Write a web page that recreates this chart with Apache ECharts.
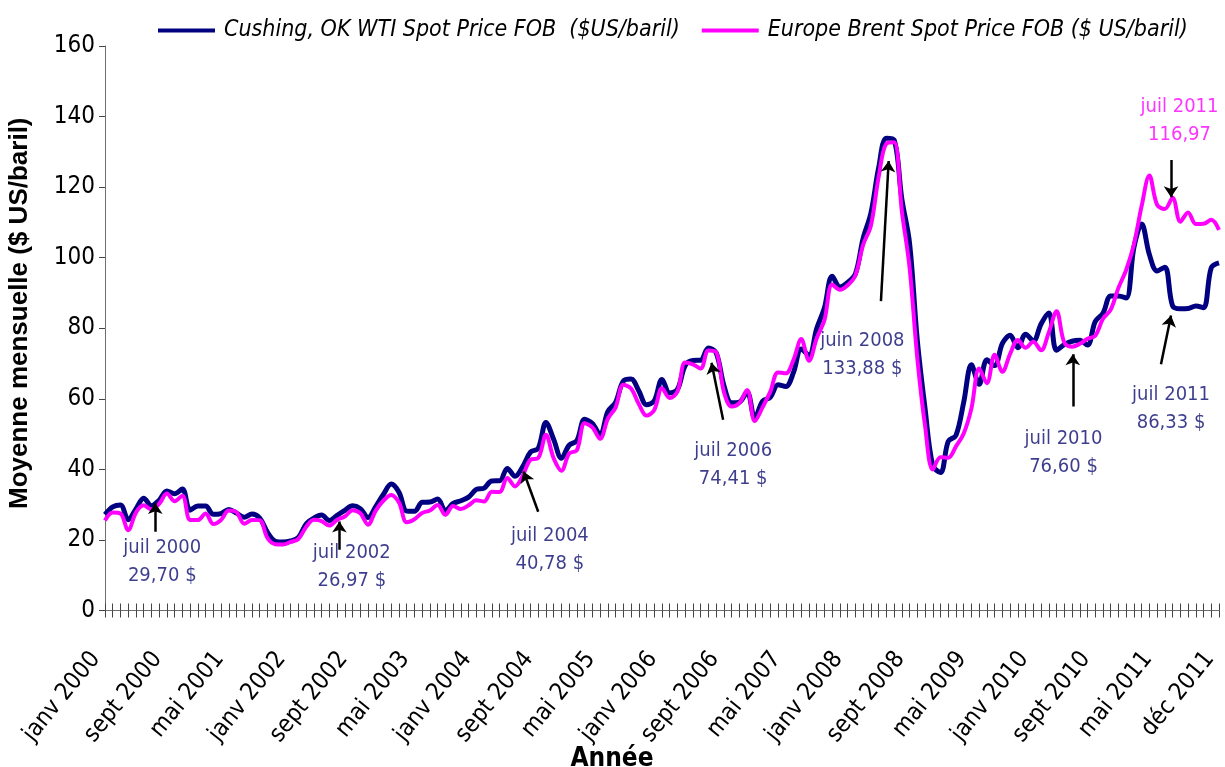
<!DOCTYPE html>
<html>
<head>
<meta charset="utf-8">
<script src="https://cdn.jsdelivr.net/npm/echarts@6/dist/echarts.min.js"></script>
<style>html,body{margin:0;padding:0;background:#fff}#c{width:1225px;height:767px}</style>
</head>
<body>
<div id="c"></div>
<script>
// ---- DATA ----
const monthNames = ['janv','févr','mars','avr','mai','juin','juil','août','sept','oct','nov','déc'];
const categories = [];
for (let y = 2000; y <= 2011; y++) for (let m = 0; m < 12; m++) {
  categories.push(monthNames[m] + ' ' + y);
  if (y === 2011 && m === 9) categories.push(monthNames[m] + ' ' + y); // repeated row in the source sheet
}
const wtiName = 'Cushing, OK WTI Spot Price FOB  ($US/baril)';
const brentName = 'Europe Brent Spot Price FOB ($ US/baril)';
const wti = [
  27.18,29.35,29.89,25.74,28.78,31.83,29.70,31.26,33.88,33.11,34.42,28.44,
  29.59,29.61,27.25,27.49,28.63,27.60,26.43,27.37,26.20,22.17,19.64,19.39,
  19.72,20.72,24.53,26.18,27.04,25.52,26.97,28.39,29.66,28.84,26.35,29.46,
  32.95,35.83,33.51,28.17,28.11,30.66,30.75,31.57,28.31,30.34,31.11,32.13,
  34.31,34.69,36.74,36.75,40.28,38.03,40.78,44.90,45.94,53.28,48.47,43.15,
  46.84,48.15,54.19,52.98,49.83,56.35,59.00,64.99,65.59,62.26,58.32,59.41,
  65.49,61.63,62.69,69.44,70.84,70.95,74.41,73.04,63.80,58.89,59.08,61.96,
  54.51,59.28,60.44,63.98,63.46,67.49,74.12,72.36,79.92,85.80,94.77,91.69,
  92.97,95.39,105.45,112.58,125.40,133.88,133.37,116.67,104.11,76.61,57.31,41.12,
  39.09,47.94,49.65,59.03,69.64,64.15,71.05,69.41,75.72,77.99,74.47,
  78.33,76.39,81.20,84.29,73.74,75.34,76.32,76.60,75.24,81.89,84.25,89.15,
  89.17,88.58,102.86,109.53,100.90,96.26,97.30,
  86.33,85.52,85.60,86.32,85.80,
  97.16,98.56
];
const brent = [
  25.51,27.78,27.49,22.76,27.74,29.80,28.68,30.20,33.14,30.96,32.55,25.66,
  25.62,27.50,24.50,25.66,28.31,27.85,24.61,25.68,25.62,20.54,18.80,18.71,
  19.42,20.28,23.70,25.73,25.35,24.08,25.74,26.65,28.40,27.54,24.34,28.33,
  31.18,32.77,30.61,25.00,25.86,27.65,28.35,29.89,27.11,29.61,28.75,29.81,
  31.28,30.86,33.63,33.59,37.57,35.18,38.22,42.74,43.20,49.78,43.11,39.60,
  44.51,45.48,53.10,51.88,48.65,54.35,57.52,63.98,62.91,58.54,55.24,56.86,
  62.99,60.21,62.06,70.26,69.78,68.56,73.67,73.23,61.96,57.81,58.76,62.47,
  53.68,57.56,62.05,67.49,67.21,71.05,76.93,70.76,77.17,82.34,92.41,90.93,
  92.18,94.99,103.64,109.07,122.80,132.32,132.72,113.24,97.23,71.58,52.45,39.95,
  43.44,43.32,46.54,50.18,57.30,68.61,64.44,72.51,67.65,72.77,76.66,74.46,
  76.17,73.75,78.83,84.82,75.95,74.76,75.58,77.04,77.84,82.67,85.28,91.45,
  96.52,103.72,114.64,123.26,114.99,113.83,116.97,110.22,112.83,109.55,
  109.60,110.77,107.87
];
const yTicks = {min: 0, max: 160, interval: 20};
// annotations: text, series, text anchor (category index, value), arrow from, arrow to
const notes = [
  {text: 'juil 2000\n29,70 $',  s: 'wti',   at: [7.4, 13.8],   from: [6.5, 22.3],  to: [6.5, 30.5]},
  {text: 'juil 2002\n26,97 $',  s: 'wti',   at: [31.9, 12.4],  from: [30.3, 17.2], to: [30.3, 25.2]},
  {text: 'juil 2004\n40,78 $',  s: 'wti',   at: [57.5, 17.2],  from: [56.0, 28.0], to: [54.1, 39.4]},
  {text: 'juil 2006\n74,41 $',  s: 'wti',   at: [81.2, 41.3],  from: [79.9, 54.1], to: [78.4, 70.2]},
  {text: 'juin 2008\n133,88 $', s: 'wti',   at: [97.9, 72.5],  from: [100.3, 87.7], to: [101.3, 127.4]},
  {text: 'juil 2010\n76,60 $',  s: 'wti',   at: [123.9, 44.6], from: [125.1, 57.8], to: [125.1, 72.6]},
  {text: 'juil 2011\n86,33 $',  s: 'wti',   at: [137.8, 57.3], from: [136.5, 69.8], to: [137.8, 83.6]},
  {text: 'juil 2011\n116,97',   s: 'brent', at: [138.9, 138.7], from: [137.8, 127.7], to: [137.8, 117.1]}
];

// ---- STYLE ----
const NARROW = "'Liberation Sans Narrow', 'DejaVu Sans Condensed', 'Arial Narrow', sans-serif";
const WIDE = "'Liberation Sans', Arial, sans-serif";
const WTI_COLOR = '#000080', BRENT_COLOR = '#ff00ff', WTI_TEXT = '#0c0c72';
const AXIS = '#6e6e6e';

const chart = echarts.init(document.getElementById('c'), null, {renderer: 'canvas'});
chart.setOption({
  animation: false,
  backgroundColor: '#fff',
  grid: {left: 105, right: 6, top: 46, bottom: 156.5, outerBoundsMode: 'none', containLabel: false},
  legend: {
    data: [wtiName, brentName], left: 153, top: 14, width: 1070, icon: 'rect',
    itemWidth: 57, itemHeight: 4, itemGap: 22,
    textStyle: {fontFamily: NARROW, fontStyle: 'italic', fontSize: 23, color: '#000', padding: [0, 0, 0, 4]}
  },
  xAxis: [
    {
      type: 'category', data: categories, boundaryGap: false,
      name: 'Année', nameLocation: 'middle', nameGap: 136, nameMoveOverlap: false,
      nameTextStyle: {fontFamily: NARROW, fontWeight: 'bold', fontSize: 26, color: '#000', padding: [0, 100, 0, 0]},
      axisLine: {lineStyle: {color: AXIS, width: 1}},
      axisTick: {interval: 0, length: 7, lineStyle: {color: '#444'}},
      axisLabel: {interval: 7, rotate: 51, margin: 52, verticalAlign: 'bottom',
                  fontFamily: NARROW, fontSize: 24, color: '#000'},
      splitLine: {show: false}
    },
    {
      type: 'category', data: categories, boundaryGap: false, position: 'bottom',
      axisLine: {show: false},
      axisTick: {interval: 0, inside: true, length: 7, lineStyle: {color: '#444'}},
      axisLabel: {show: false}, splitLine: {show: false}
    },
    {type: 'value', min: 0, max: categories.length - 1, show: false}
  ],
  yAxis: {
    type: 'value', min: yTicks.min, max: yTicks.max, interval: yTicks.interval,
    name: 'Moyenne mensuelle ($ US/baril)', nameLocation: 'middle', nameGap: 72,
    nameTextStyle: {fontFamily: WIDE, fontWeight: 'bold', fontSize: 26, color: '#000', padding: [0, 0, 0, 30]},
    axisLine: {show: true, lineStyle: {color: AXIS}},
    axisTick: {show: true, length: 6, lineStyle: {color: '#444'}},
    axisLabel: {fontFamily: NARROW, fontSize: 24, color: '#000', margin: 10},
    splitLine: {show: false}
  },
  series: [
    {name: wtiName, type: 'line', data: wti, smooth: 0.35, symbol: 'none',
     lineStyle: {color: WTI_COLOR, width: 5}, itemStyle: {color: WTI_COLOR}, z: 2},
    {name: brentName, type: 'line', data: brent, smooth: 0.35, symbol: 'none',
     lineStyle: {color: BRENT_COLOR, width: 4}, itemStyle: {color: BRENT_COLOR}, z: 3},
    {type: 'lines', coordinateSystem: 'cartesian2d', xAxisIndex: 2, yAxisIndex: 0, silent: true, z: 4,
     symbol: ['none', 'arrow'], symbolSize: [0, 11],
     lineStyle: {color: '#000', width: 2.5, opacity: 1},
     data: notes.map(n => ({coords: [n.from, n.to]}))},
    {type: 'scatter', xAxisIndex: 2, yAxisIndex: 0, silent: true, symbolSize: 1, z: 5,
     itemStyle: {color: 'rgba(0,0,0,0)'},
     data: notes.map(n => ({value: n.at, name: n.text,
       label: {show: true, position: 'inside', formatter: n.text, fontFamily: NARROW, fontSize: 20,
               lineHeight: 28, align: 'center', verticalAlign: 'middle',
               color: n.s === 'wti' ? WTI_TEXT : BRENT_COLOR}}))}
  ]
});
</script>
</body>
</html>
